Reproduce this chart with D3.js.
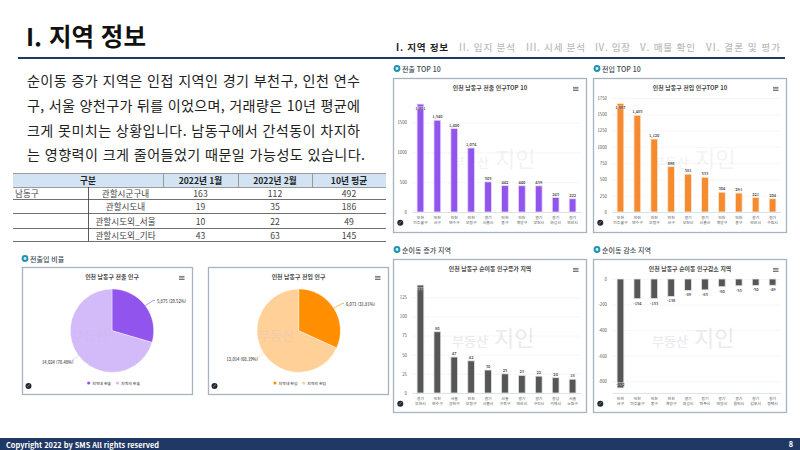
<!DOCTYPE html>
<html lang="ko"><head><meta charset="utf-8">
<script src="https://cdn.jsdelivr.net/npm/d3@7"></script>
<style>
html,body{margin:0;padding:0;background:#fff;overflow:hidden}
svg{display:block}
text{font-family:"Noto Sans CJK KR","Noto Sans",sans-serif}
</style></head><body>
<svg id="c" width="800" height="450"></svg>
<script>
// ---------- data ----------
const outCats=["인천 미추홀구","인천 서구","인천 연수구","인천 부평구","경기 시흥시","인천 중구","인천 계양구","경기 부천시","경기 화성시","경기 안산시"];
const outVals=[1811,1540,1400,1074,505,442,440,439,243,222];
const inCats=["인천 미추홀구","인천 연수구","인천 부평구","인천 서구","경기 부천시","경기 시흥시","인천 계양구","인천 중구","경기 안산시","경기 수원시"];
const inVals=[1667,1485,1120,696,581,533,304,291,221,204];
const upCats=["경기 부천시","인천 연수구","서울 양천구","인천 부평구","경기 시흥시","서울 구로구","경기 안산시","경기 구리시","경남 거제시","서울 노원구"];
const upVals=[141,80,47,42,30,25,23,22,20,18];
const downCats=["인천 서구","인천 미추홀구","인천 중구","인천 계양구","경기 화성시","경기 파주시","경기 안양시","경기 용인시","경기 김포시","경기 평택시"];
const downVals=[-852,-154,-153,-136,-89,-85,-60,-53,-50,-49];
const outTicks=[0,500,1000,1500];
const inTicks=[0,250,500,750,1000,1250,1500,1750];
const upTicks=[0,25,50,75,100,125];
const downTicks=[0,-200,-400,-600,-800];
const pieOutNames=["지역내 전출","지역외 전출"];
const pieOutVals=[5875,14024];
const pieInNames=["지역내 전입","지역외 전입"];
const pieInVals=[6071,13014];
const navItems=["I. 지역 정보","II. 입지 분석","III. 시세 분석","IV. 임장","V. 매물 확인","VI. 결론 및 평가"];
const bodyLines=["순이동 증가 지역은 인접 지역인 경기 부천구, 인천 연수","구, 서울 양천구가 뒤를 이었으며, 거래량은 10년 평균에","크게 못미치는 상황입니다. 남동구에서 간석동이 차지하","는 영향력이 크게 줄어들었기 때문일 가능성도 있습니다."];
const tableHead=["구분","2022년 1월","2022년 2월","10년 평균"];
const tableRows=["관할시군구내","관할시도내","관할시도외_서울","관할시도외_기타"];
const tableJan=[163,19,10,43];
const tableFeb=[112,35,22,63];
const tableAvg=[492,186,49,145];

// ---------- page ----------
const svg=d3.select("#c");
const NAVY="#1f3864";
function txt(g,x,y,s,size,o={}){
  return g.append("text").attr("x",x).attr("y",y).attr("font-size",size)
    .attr("fill",o.fill||"#333").attr("font-weight",o.w||400)
    .attr("text-anchor",o.a||"start").attr("dominant-baseline","central").text(s);
}
svg.append("rect").attr("width",800).attr("height",450).attr("fill","#fff");
txt(svg,26,35,"I. 지역 정보",24.5,{w:700,fill:"#111"});
const navX=[396,459,526,595,640,706];
const navW=[52,56,59,35,55,74];
navItems.forEach((s,i)=>txt(svg,navX[i],46.5,s,9.6,{w:i==0?700:500,fill:i==0?"#222":"#bcbcbc"}).attr("textLength",navW[i]).attr("lengthAdjust","spacing"));
svg.append("rect").attr("x",18).attr("y",57).attr("width",767).attr("height",2).attr("fill",NAVY);
svg.append("rect").attr("x",0).attr("y",438).attr("width",800).attr("height",12).attr("fill",NAVY);
txt(svg,6,444.5,"Copyright 2022 by SMS  All rights reserved",7.4,{w:700,fill:"#fff"});
txt(svg,793,443.5,"8",7.4,{w:700,fill:"#fff",a:"end"});
bodyLines.forEach((s,i)=>{
  txt(svg,27,[80,105,130,154][i],s,14.1,{fill:"#222"}).attr("textLength",i==3?338:333).attr("lengthAdjust","spacing");
});

// ---------- table ----------
const T=svg.append("g");
const colX=[13,88,163,238,312,386], rowY=[173,187,199,213,228,241];
T.append("rect").attr("x",13).attr("y",173).attr("width",373).attr("height",14).attr("fill","#d2e3f3");
txt(T,88,180,tableHead[0],8.6,{w:700,a:"middle",fill:"#222"});
[1,2,3].forEach(i=>txt(T,(colX[i+1]+colX[i+2])/2,180,tableHead[i],8.6,{w:700,a:"middle",fill:"#222"}));
txt(T,15,193,"남동구",8.6,{fill:"#444"});
tableRows.forEach((s,i)=>{
  const y=(rowY[i+1]+rowY[i+2])/2;
  txt(T,125.5,y,s,8.6,{a:"middle",fill:"#444"});
  txt(T,200.5,y,tableJan[i],8.6,{a:"middle",fill:"#444"});
  txt(T,275,y,tableFeb[i],8.6,{a:"middle",fill:"#444"});
  txt(T,349,y,tableAvg[i],8.6,{a:"middle",fill:"#444"});
});
rowY.forEach((y,i)=>T.append("line").attr("x1",13).attr("x2",386).attr("y1",y+.5).attr("y2",y+.5)
  .attr("stroke",i<2?"#9a9a9a":"#333").attr("stroke-width",i<2?1:.7));
[163,238,312].forEach(x=>T.append("line").attr("x1",x+.5).attr("x2",x+.5).attr("y1",173).attr("y2",187).attr("stroke","#999"));
T.append("line").attr("x1",88.5).attr("x2",88.5).attr("y1",187).attr("y2",241).attr("stroke","#333").attr("stroke-width",.8);

// ---------- shared pieces ----------
function sectionTitle(x,y,s){
  svg.append("circle").attr("cx",x).attr("cy",y).attr("r",3.4).attr("fill","#1f93b0");
  svg.append("circle").attr("cx",x).attr("cy",y).attr("r",1.4).attr("fill","#d7f0f5");
  txt(svg,x+5,y,s,7,{w:500,fill:"#3c4a55"});
}
function card(x,y,w,h,title,tx){
  const g=svg.append("g");
  g.append("rect").attr("x",x+.5).attr("y",y+.5).attr("width",w).attr("height",h)
    .attr("fill","#fff").attr("stroke","#a8b3c0").attr("stroke-width",1.3);
  txt(g,tx,y+9.5,title,5.9,{w:700,a:"middle",fill:"#444"});
  [-1.6,0,1.6].forEach(d=>g.append("rect").attr("x",x+w-13).attr("y",y+10.5+d).attr("width",5.5).attr("height",.8).attr("fill","#555"));
  return g;
}
function watermark(g,x,y,op){
  txt(g,x,y,"부동산",13,{w:500,fill:"#d9d9e2"}).attr("opacity",op);
  txt(g,x+42,y-4,"지인",22,{w:400,fill:"#d9d9e2"}).attr("opacity",op);
}
function logo(g,x,y){
  g.append("circle").attr("cx",x).attr("cy",y).attr("r",3).attr("fill","#1d2a3a");
  g.append("path").attr("d",`M${x-1.5} ${y+1}L${x+1.5} ${y-1.5}`).attr("stroke","#e7863c").attr("stroke-width",.7);
}
function barChart(o){
  const g=card(o.x,o.y,193,o.h,o.title,o.tx);
  const xs=d3.scaleBand().domain(o.cats).range(o.xr).paddingInner(.6).paddingOuter(.3);
  const ys=d3.scaleLinear().domain([o.ticks[0],o.ticks[o.ticks.length-1]]).range(o.yr);
  const ax=g.append("g").attr("transform",`translate(${o.xr[0]},0)`)
    .call(d3.axisLeft(ys).tickValues(o.ticks).tickSize(0).tickPadding(5).tickFormat(d=>d));
  ax.select(".domain").remove();
  ax.selectAll("text").attr("font-size",4.3).attr("fill","#555");
  ax.selectAll("line").attr("x2",o.xr[1]-o.xr[0]).attr("stroke","#f2f2f2").attr("stroke-width",.7);
  watermark(g,o.x+o.wmx,o.y+o.wmy,o.wmo);
  const base=ys(0);
  g.selectAll("rect.b").data(o.vals).join("rect").attr("class","b")
    .attr("x",(d,i)=>xs(o.cats[i])).attr("width",xs.bandwidth())
    .attr("y",d=>Math.min(ys(d),base)).attr("height",d=>Math.abs(ys(d)-base))
    .attr("fill",o.color).attr("stroke",o.halo).attr("stroke-width",.8);
  const xa=g.append("g").attr("transform",`translate(0,${o.axisY})`).call(d3.axisBottom(xs).tickSize(0).tickFormat(""));
  xa.select(".domain").attr("stroke","#cfe0ee").attr("stroke-width",.8);
  o.cats.forEach(c=>{
    const [a,b]=c.split(" "), cx=xs(c)+xs.bandwidth()/2;
    txt(g,cx,o.axisY+5,a,3.9,{a:"middle",fill:"#555"});
    txt(g,cx,o.axisY+10,b,3.9,{a:"middle",fill:"#555"});
  });
  o.vals.forEach((v,i)=>{
    const cx=xs(o.cats[i])+xs.bandwidth()/2;
    const inside=i==0;
    const neg=v<0;
    const ly=inside?(neg?ys(v)-4:ys(v)+4):(neg?ys(v)+4:ys(v)-4);
    if(inside) g.append("rect").attr("x",cx-4.5).attr("y",ly-2).attr("width",9).attr("height",4).attr("fill","#fff").attr("opacity",.4);
    txt(g,cx,ly,d3.format(",")(v).replace("−","-"),4,{a:"middle",fill:"#333",w:500});
  });
  logo(g,o.x+7.3,o.y+144.7);
}
function pieChart(o){
  const g=card(o.x,267,o.w,127,o.title,o.tx);
  const tot=d3.sum(o.vals);
  const arcs=d3.pie().sort(null)(o.vals);
  const arc=d3.arc().innerRadius(0).outerRadius(41.7);
  const p=g.append("g").attr("transform",`translate(${o.cx},${o.cy})`);
  p.selectAll("path").data(arcs).join("path").attr("d",arc).attr("fill",(d,i)=>o.colors[i]).attr("stroke","#fff").attr("stroke-width",.4);
  arcs.forEach((a,i)=>{
    const l=o.labels[i], m=(a.startAngle+a.endAngle)/2;
    const x0=o.cx+Math.sin(m)*41.7, y0=o.cy-Math.cos(m)*41.7;
    g.append("path").attr("fill","none").attr("stroke",o.colors[i]).attr("stroke-width",.6)
      .attr("d",`M${x0} ${y0}L${l.lx} ${l.y}L${l.x} ${l.y}`);
    txt(g,l.tx,l.y,`${d3.format(",")(o.vals[i])} (${(o.vals[i]/tot*100).toFixed(2)}%)`,4.1,{fill:"#444",w:500});
    g.append("circle").attr("cx",o.leg[i]).attr("cy",383).attr("r",1.6).attr("fill",o.colors[i]);
    txt(g,o.leg[i]+3.5,383,o.names[i],3.9,{fill:"#444",w:500});
  });
  txt(g,o.wm,o.cy+4,"부동산",13,{w:500,fill:"#c9b9e8"}).attr("opacity",.22);
  logo(g,o.x+6.5,386);
}

// ---------- section titles ----------
sectionTitle(397,68.5,"전출 TOP 10");
sectionTitle(597,68.5,"전입 TOP 10");
sectionTitle(397,249.5,"순이동 증가 지역");
sectionTitle(597,249.5,"순이동 감소 지역");
sectionTitle(25,258.5,"전출입 비율");

// ---------- bars ----------
barChart({x:393,y:78,h:154,title:"인천 남동구 전출 인구TOP 10",tx:490,cats:outCats,vals:outVals,ticks:outTicks,
  xr:[412,581],yr:[212,122.6],axisY:212,color:"#9155ee",halo:"#e6dafb",wmx:60,wmy:83,wmo:.3});
barChart({x:593,y:78,h:154,title:"인천 남동구 전입 인구TOP 10",tx:690,cats:inCats,vals:inVals,ticks:inTicks,
  xr:[612,781],yr:[212,98],axisY:212,color:"#f58a2e",halo:"#fde8d6",wmx:60,wmy:83,wmo:.3});
barChart({x:393,y:259,h:153,title:"인천 남동구 순이동 인구증가 지역",tx:490,cats:upCats,vals:upVals,ticks:upTicks,
  xr:[412,581],yr:[393,297.3],axisY:393,color:"#565656",halo:"#e4e4e4",wmx:59,wmy:81,wmo:.55});
barChart({x:593,y:259,h:153,title:"인천 남동구 순이동 인구감소 지역",tx:690,cats:downCats,vals:downVals,ticks:downTicks,
  xr:[612,781],yr:[279,381.3],axisY:393,color:"#565656",halo:"#e4e4e4",wmx:59,wmy:81,wmo:.55});

// ---------- pies ----------
pieChart({x:22,w:170,title:"인천 남동구 전출 인구",tx:112,cx:112,cy:330.7,vals:pieOutVals,names:pieOutNames,colors:["#9155ee","#d3baf8"],
  labels:[{lx:153,x:155,y:300.5,tx:157},{lx:70,x:68,y:362,tx:42}],leg:[88.7,117.5],wm:72});
pieChart({x:208,w:180,title:"인천 남동구 전입 인구",tx:298.5,cx:298.7,cy:330.7,vals:pieInVals,names:pieInNames,colors:["#ff8f00","#ffd199"],
  labels:[{lx:342,x:344,y:303.5,tx:346},{lx:256,x:252,y:358.5,tx:226.5}],leg:[275,303.7],wm:258});
</script></body></html>
